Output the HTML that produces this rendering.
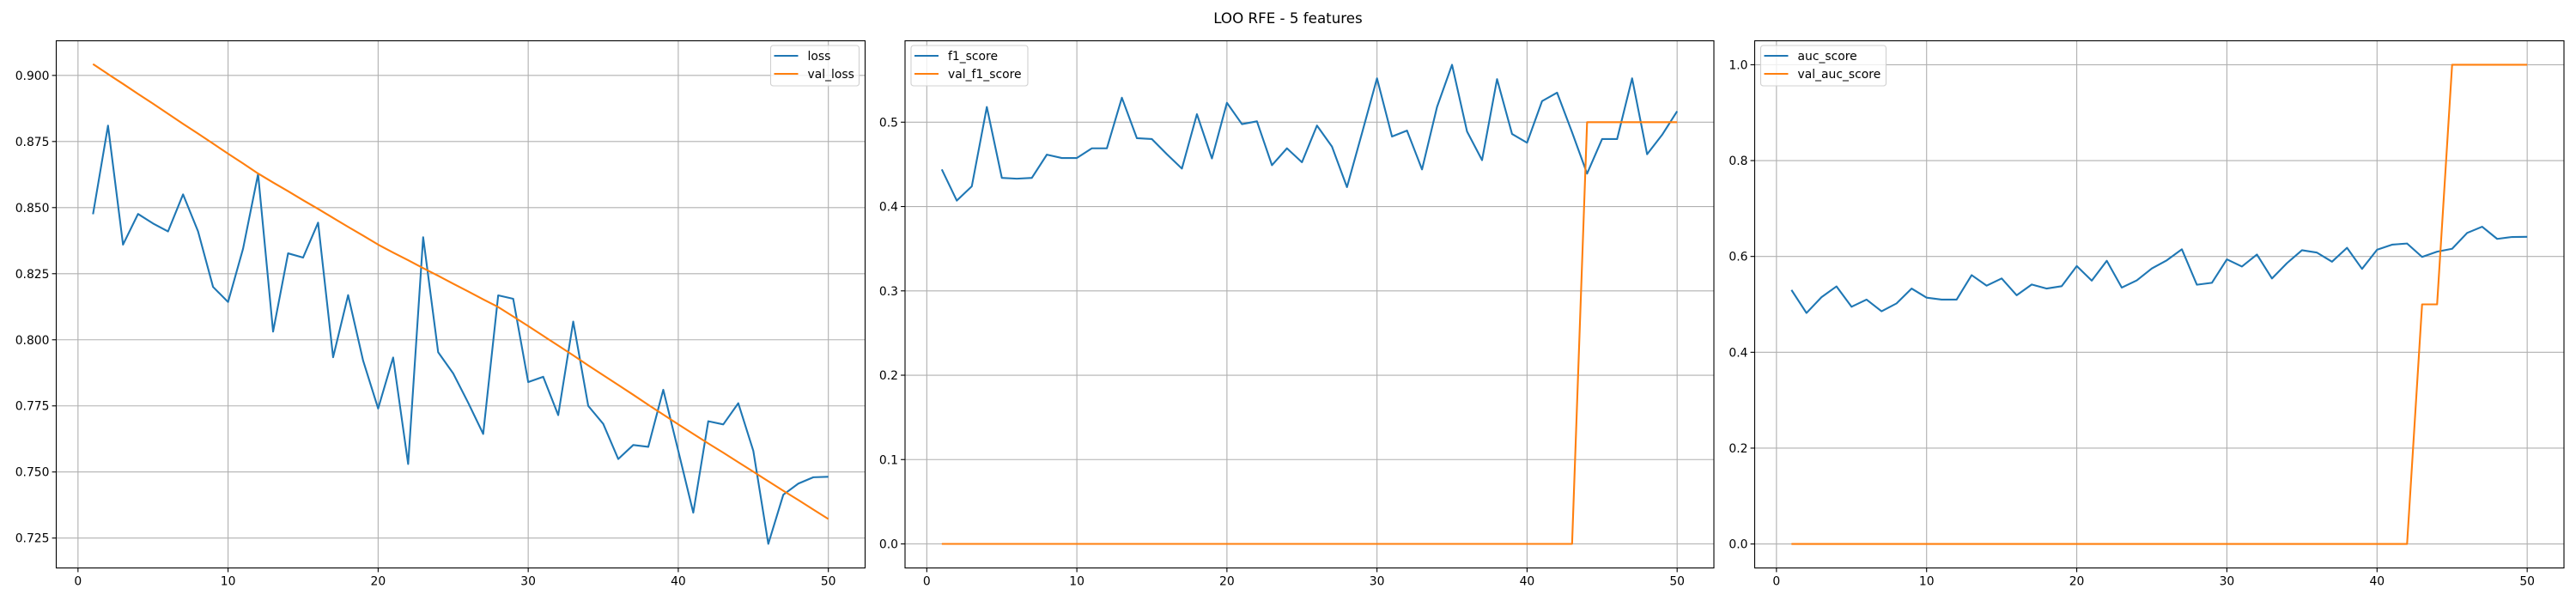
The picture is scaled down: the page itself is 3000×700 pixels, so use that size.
<!DOCTYPE html>
<html><head><meta charset="utf-8"><style>
html,body{margin:0;padding:0;background:#fff;width:3000px;height:700px;overflow:hidden}
svg{display:block;font-family:"DejaVu Sans","Liberation Sans",sans-serif}
</style></head><body>
<svg id="fig" width="3000" height="700" viewBox="0 0 3000 700" xmlns="http://www.w3.org/2000/svg">
<rect width="3000" height="700" fill="#fff"/>
<text x="1500" y="27" font-size="16.7" text-anchor="middle" fill="#000">LOO RFE - 5 features</text>
</svg>
<script>
const epochs = Array.from({length:50},(_,i)=>i+1);
const lossValues = [0.8475,0.881,0.836,0.8476,0.844,0.841,0.855,0.841,0.820,0.8143,0.8345,0.8627,0.8031,0.8327,0.8311,0.8443,0.7934,0.8169,0.7921,0.774,0.7933,0.753,0.8388,0.7953,0.7873,0.7762,0.7644,0.8168,0.8155,0.784,0.786,0.7715,0.8069,0.775,0.7682,0.7549,0.7602,0.7595,0.7811,0.758,0.7346,0.7692,0.768,0.776,0.758,0.7228,0.7414,0.7456,0.748,0.7482];
const valLossValues = [0.9043,0.9005,0.8968,0.8930,0.8893,0.8855,0.8817,0.8780,0.8742,0.8704,0.8667,0.8629,0.8595,0.8562,0.8528,0.8495,0.8461,0.8427,0.8394,0.8360,0.8330,0.8301,0.8271,0.8242,0.8212,0.8183,0.8153,0.8124,0.8088,0.8052,0.8015,0.7978,0.7941,0.7903,0.7866,0.7829,0.7792,0.7754,0.7717,0.7680,0.7644,0.7608,0.7573,0.7537,0.7501,0.7465,0.7429,0.7394,0.7358,0.7322];
const f1Values = [0.444,0.407,0.424,0.518,0.434,0.433,0.434,0.4615,0.4575,0.4575,0.469,0.469,0.529,0.481,0.480,0.462,0.445,0.5095,0.457,0.523,0.4977,0.501,0.449,0.469,0.4525,0.496,0.471,0.423,0.487,0.552,0.483,0.490,0.444,0.518,0.568,0.489,0.455,0.551,0.486,0.4756,0.525,0.535,0.488,0.439,0.480,0.480,0.552,0.462,0.485,0.513];
const valF1Values = [0,0,0,0,0,0,0,0,0,0,0,0,0,0,0,0,0,0,0,0,0,0,0,0,0,0,0,0,0,0,0,0,0,0,0,0,0,0,0,0,0,0,0,0.5,0.5,0.5,0.5,0.5,0.5,0.5];
const aucValues = [0.530,0.482,0.515,0.5375,0.495,0.510,0.4856,0.502,0.533,0.514,0.510,0.510,0.561,0.539,0.554,0.519,0.5415,0.533,0.538,0.580,0.5495,0.591,0.535,0.550,0.575,0.592,0.615,0.541,0.545,0.594,0.579,0.604,0.554,0.586,0.613,0.608,0.589,0.618,0.574,0.614,0.6246,0.627,0.599,0.610,0.616,0.649,0.662,0.6366,0.6406,0.641];
const valAucValues = [0,0,0,0,0,0,0,0,0,0,0,0,0,0,0,0,0,0,0,0,0,0,0,0,0,0,0,0,0,0,0,0,0,0,0,0,0,0,0,0,0,0,0.5,0.5,1,1,1,1,1,1];
const xTicks = [0,10,20,30,40,50];
const lossTicks = [0.725,0.750,0.775,0.800,0.825,0.850,0.875,0.900];
const f1Ticks = [0.0,0.1,0.2,0.3,0.4,0.5];
const aucTicks = [0.0,0.2,0.4,0.6,0.8,1.0];

const NS="http://www.w3.org/2000/svg";
const svg=document.getElementById('fig');
function mk(tag,attrs,parent){const e=document.createElementNS(NS,tag);for(const k in attrs)e.setAttribute(k,attrs[k]);(parent||svg).appendChild(e);return e;}

const panels=[
 {name:'loss',x0:65.5,x1:1007.5,ymin:0.7137,ymax:0.9131,ticks:lossTicks,dec:3,s1:lossValues,s2:valLossValues,l1:'loss',l2:'val_loss',legend:'right'},
 {name:'f1',x0:1054,x1:1996,ymin:-0.0285,ymax:0.5965,ticks:f1Ticks,dec:1,s1:f1Values,s2:valF1Values,l1:'f1_score',l2:'val_f1_score',legend:'left'},
 {name:'auc',x0:2043.5,x1:2986,ymin:-0.05,ymax:1.05,ticks:aucTicks,dec:1,s1:aucValues,s2:valAucValues,l1:'auc_score',l2:'val_auc_score',legend:'left'}
];
const Y0=47.5,Y1=661.5,XMIN=-1.45,XMAX=52.45;

panels.forEach(p=>{
  const g=mk('g',{});
  
  
  const sx=v=>p.x0+(v-XMIN)/(XMAX-XMIN)*(p.x1-p.x0);
  const sy=v=>Y1-(v-p.ymin)/(p.ymax-p.ymin)*(Y1-Y0);
  // grid
  xTicks.forEach(t=>{
    const x=sx(t);
    const l=mk('line',{x1:x,x2:x,y1:Y0,y2:Y1,stroke:'#b0b0b0','stroke-width':1.1},g);
    
    
    mk('line',{x1:x,x2:x,y1:Y1,y2:Y1+4.9,stroke:'#000','stroke-width':1.1},g);
    const tx=mk('text',{x:x,y:Y1+20,'font-size':13.9,'text-anchor':'middle',fill:'#000'},g);
    tx.textContent=t;
    
    
  });
  p.ticks.forEach(t=>{
    const y=sy(t);
    const l=mk('line',{x1:p.x0,x2:p.x1,y1:y,y2:y,stroke:'#b0b0b0','stroke-width':1.1},g);
    
    
    mk('line',{x1:p.x0-4.9,x2:p.x0,y1:y,y2:y,stroke:'#000','stroke-width':1.1},g);
    const tx=mk('text',{x:p.x0-8,y:y+5,'font-size':13.9,'text-anchor':'end',fill:'#000'},g);
    tx.textContent=t.toFixed(p.dec);
    
    
  });
  const pts=s=>epochs.map((e,i)=>sx(e).toFixed(2)+','+sy(s[i]).toFixed(2)).join(' ');
  const a=mk('polyline',{points:pts(p.s1),fill:'none',stroke:'#1f77b4','stroke-width':2.1,'stroke-linejoin':'round'},g);
  
  
  const b=mk('polyline',{points:pts(p.s2),fill:'none',stroke:'#ff7f0e','stroke-width':2.1,'stroke-linejoin':'round'},g);
  
  
  const fr=mk('rect',{x:p.x0,y:Y0,width:p.x1-p.x0,height:Y1-Y0,fill:'none',stroke:'#000','stroke-width':1.1},g);
  
  
  // legend
  const w = p.name==='loss'?103:(p.name==='f1'?136:146);
  const lx = p.legend==='right'? p.x1-7-w : p.x0+7;
  const lg=mk('g',{},g);
  
  
  mk('rect',{x:lx,y:53,width:w,height:47,rx:3,fill:'#fff','fill-opacity':0.8,stroke:'#d0d0d0','stroke-width':1.1},lg);
  [[p.l1,'#1f77b4',65],[p.l2,'#ff7f0e',86]].forEach(([lab,c,y])=>{
    const e=mk('g',{},lg);
    
    
    mk('line',{x1:lx+4,x2:lx+32,y1:y,y2:y,stroke:c,'stroke-width':2.1},e);
    const t=mk('text',{x:lx+43,y:y+5,'font-size':13.9,fill:'#000'},e);
    t.textContent=lab;
  });
});
</script>
</body></html>
